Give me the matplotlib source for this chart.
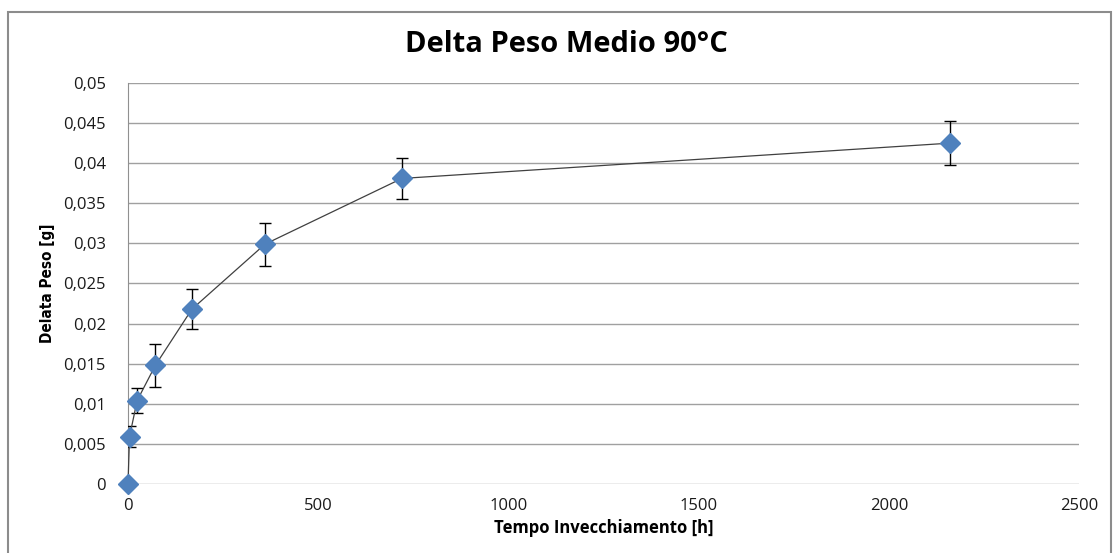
import matplotlib
matplotlib.use("Agg")
from matplotlib import pyplot as plt
from matplotlib.patches import Rectangle
from matplotlib.ticker import FuncFormatter, MultipleLocator

# ageing time [h] and mean weight change [g] with its spread
tempo = [0, 4, 24, 72, 168, 360, 720, 2160]
delta_peso = [0, 0.0059, 0.0104, 0.0148, 0.0218, 0.0299, 0.0381, 0.0425]
errore = [0, 0.0013, 0.0016, 0.0027, 0.0025, 0.0027, 0.0026, 0.0027]

plt.rcParams['font.family'] = ['Open Sans', 'DejaVu Sans']

fig = plt.figure(figsize=(11.15, 5.53), dpi=100)
ax = fig.add_axes([0.1148, 0.1248, 0.853, 0.7251])

# outer chart border
fig.patches.append(Rectangle((8 / 1115, -0.01), 1103 / 1115, 1 - 12 / 553 + 0.01,
                             transform=fig.transFigure, fill=False,
                             edgecolor='#8c8c8c', lw=1.5))

ax.errorbar(tempo, delta_peso, yerr=errore, fmt='none', ecolor='black',
            elinewidth=1, capsize=4.5, capthick=1, zorder=3)
ax.plot(tempo, delta_peso, color='#404040', lw=0.9, zorder=4, clip_on=False)
ax.plot(tempo, delta_peso, 'D', color='#4f81bd', markersize=10,
        markeredgecolor='#4f81bd', zorder=5, clip_on=False)

ax.set_xlim(0, 2500)
ax.set_ylim(0, 0.05)
ax.xaxis.set_major_locator(MultipleLocator(500))
ax.yaxis.set_major_locator(MultipleLocator(0.005))

def virgola(v, pos):
    s = ('%.3f' % v).rstrip('0').rstrip('.')
    return s.replace('.', ',')

ax.yaxis.set_major_formatter(FuncFormatter(virgola))
ax.grid(axis='y', color='#a0a0a0', lw=1)
ax.set_axisbelow(True)
for s in ['top', 'right', 'bottom']:
    ax.spines[s].set_visible(False)
ax.spines['left'].set_color('#909090')
ax.tick_params(length=0, labelsize=12, colors='#1a1a1a')
ax.tick_params(axis='y', pad=16)
ax.tick_params(axis='x', pad=10)

fig.text(566 / 1115, 1 - 45 / 553, 'Delta Peso Medio 90°C', fontsize=21,
         fontweight='bold', ha='center', va='center')
ax.set_xlabel('Tempo Invecchiamento [h]', fontsize=12, fontweight='bold', labelpad=4)
ax.set_ylabel('Delata Peso [g]', fontsize=11, fontweight='bold', labelpad=6,
              family='DejaVu Sans', fontstretch='condensed')

fig.savefig('out.png', dpi=100)
